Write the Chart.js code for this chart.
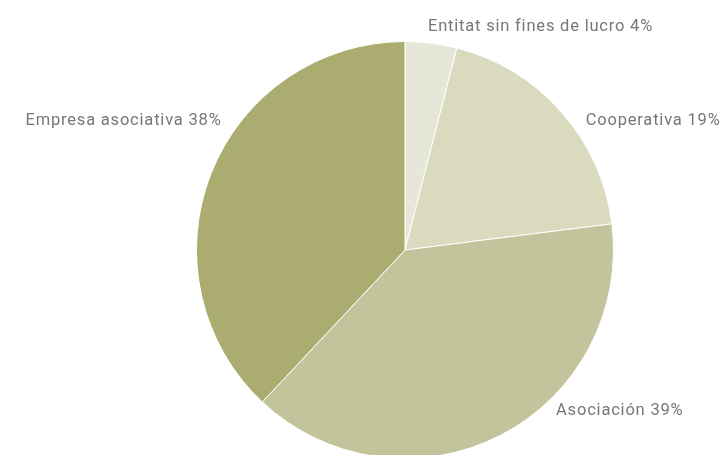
<!DOCTYPE html>
<html>
<head>
<meta charset="utf-8">
<script src="https://cdn.jsdelivr.net/npm/chart.js@4.4.0/dist/chart.umd.min.js"></script>
<style>
  html, body { margin: 0; padding: 0; background: #fff; overflow: hidden; }
  #wrap { width: 725px; height: 470px; }
</style>
</head>
<body>
<div id="wrap"><canvas id="chart" width="725" height="470"></canvas></div>
<script>
// Datos del gráfico
const categorias = ['Entitat sin fines de lucro', 'Cooperativa', 'Asociación', 'Empresa asociativa'];
const porcentajes = [4, 19, 39, 38];
const colores = ['#e6e7d8', '#d9dabe', '#c3c49c', '#aaac70'];

// Posición de cada etiqueta respecto al centro, en fracciones del radio
const posEtiquetas = [[0.65, -1.07], [1.19, -0.62], [1.03, 0.77], [-1.35, -0.62]];

const etiquetasPlugin = {
    id: 'etiquetas',
    afterDraw(chart) {
        const ctx = chart.ctx;
        const arc = chart.getDatasetMeta(0).data[0];
        const cx = arc.x, cy = arc.y, r = arc.outerRadius;
        ctx.save();
        ctx.font = '16.5px Roboto';
        ctx.letterSpacing = '0.8px';
        ctx.fillStyle = '#7a7672';
        ctx.textAlign = 'center';
        ctx.textBaseline = 'middle';
        categorias.forEach((cat, i) => {
            const [fx, fy] = posEtiquetas[i];
            ctx.fillText(cat + ' ' + porcentajes[i] + '%', cx + fx * r, cy + fy * r);
        });
        ctx.restore();
    }
};

new Chart(document.getElementById('chart'), {
    type: 'pie',
    data: {
        labels: categorias,
        datasets: [{
            data: porcentajes,
            backgroundColor: colores,
            borderColor: '#ffffff',
            borderWidth: 1
        }]
    },
    options: {
        responsive: false,
        animation: false,
        layout: { padding: { left: 196, right: 111, top: 41, bottom: 11 } },
        plugins: {
            legend: { display: false },
            tooltip: { enabled: false }
        }
    },
    plugins: [etiquetasPlugin]
});
</script>
</body>
</html>
